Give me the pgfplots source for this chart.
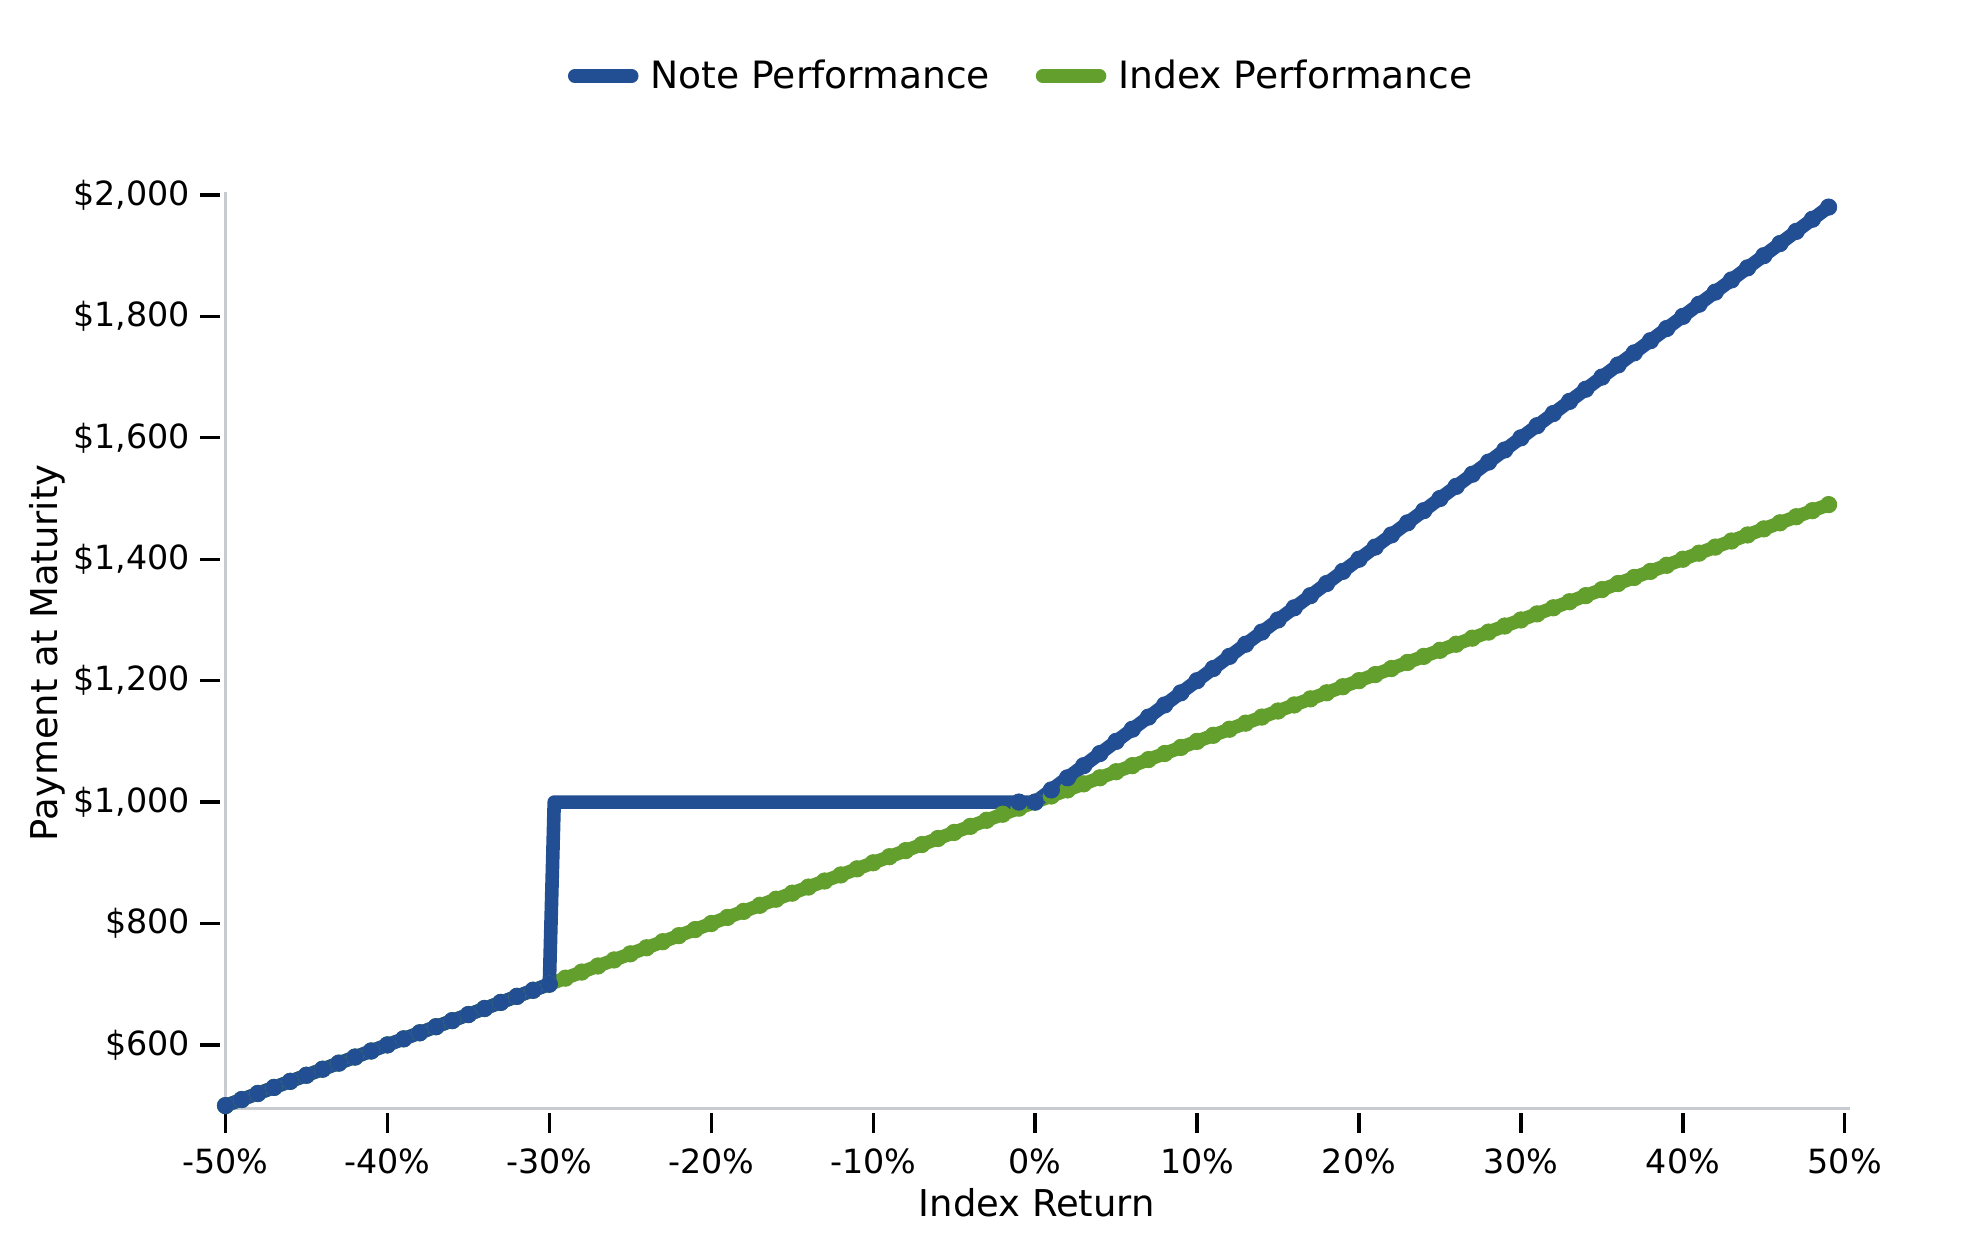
\documentclass[border=0pt]{standalone}
\usepackage{fontspec}
\setmainfont{DejaVu Sans}
\usepackage{pgfplots}
\pgfplotsset{compat=1.18}
\definecolor{noteblue}{RGB}{34,78,148}
\definecolor{idxgreen}{RGB}{99,159,45}
\definecolor{spinegray}{RGB}{200,204,208}
\begin{document}
\begin{tikzpicture}
\begin{axis}[
  at={(0,0)}, anchor=south west,
  scale only axis,
  width=584.7bp, height=329.8bp,
  xmin=-50, xmax=50.3, ymin=496, ymax=2005,
  clip=false,
  axis lines*=left,
  axis line style={draw=spinegray, line width=1.1bp},
  tick align=outside,
  major tick length=7.2bp,
  xtick={-50,-40,-30,-20,-10,0,10,20,30,40,50},
  xticklabels={-50\%,-40\%,-30\%,-20\%,-10\%,0\%,10\%,20\%,30\%,40\%,50\%},
  ytick={600,800,1000,1200,1400,1600,1800,2000},
  yticklabels={{\$600},{\$800},{\$1,000},{\$1,200},{\$1,400},{\$1,600},{\$1,800},{\$2,000}},
  xtick style={black, line width=1.2bp, yshift=-1.8bp},
  ytick style={black, line width=1.2bp, xshift=-1.8bp},
  tick label style={font=\fontsize{12bp}{14bp}\selectfont},
  xticklabel style={yshift=-4bp},
  yticklabel style={xshift=-2bp},
  xlabel={Index Return},
  ylabel={Payment at Maturity},
  every axis x label/.style={at={(axis description cs:0.4995,-0.1035)}, anchor=center, font=\fontsize{13.3bp}{16bp}\selectfont},
  every axis y label/.style={at={(axis description cs:-0.1094,0.497)}, anchor=center, rotate=90, font=\fontsize{13.3bp}{16bp}\selectfont},
  legend columns=2,
  reverse legend,
  legend style={at={(axis description cs:0.491,1.1265)}, anchor=center, draw=none, fill=none,
    font=\fontsize{13.55bp}{16bp}\selectfont,
    /tikz/every odd column/.append style={column sep=2.3bp},
    /tikz/every even column/.append style={column sep=14.5bp}},
  legend image code/.code={\draw[#1, line cap=round] (0bp,0bp) -- (20.5bp,0bp);},
]
% Index Performance
\addplot[idxgreen, line width=4.9bp, mark=*, mark size=2.95bp, mark options={solid, line width=0.3bp, draw=idxgreen, fill=idxgreen}] table {
x y
-50 500
-49 510
-48 520
-47 530
-46 540
-45 550
-44 560
-43 570
-42 580
-41 590
-40 600
-39 610
-38 620
-37 630
-36 640
-35 650
-34 660
-33 670
-32 680
-31 690
-30 700
-29 710
-28 720
-27 730
-26 740
-25 750
-24 760
-23 770
-22 780
-21 790
-20 800
-19 810
-18 820
-17 830
-16 840
-15 850
-14 860
-13 870
-12 880
-11 890
-10 900
-9 910
-8 920
-7 930
-6 940
-5 950
-4 960
-3 970
-2 980
-1 990
0 1000
1 1010
2 1020
3 1030
4 1040
5 1050
6 1060
7 1070
8 1080
9 1090
10 1100
11 1110
12 1120
13 1130
14 1140
15 1150
16 1160
17 1170
18 1180
19 1190
20 1200
21 1210
22 1220
23 1230
24 1240
25 1250
26 1260
27 1270
28 1280
29 1290
30 1300
31 1310
32 1320
33 1330
34 1340
35 1350
36 1360
37 1370
38 1380
39 1390
40 1400
41 1410
42 1420
43 1430
44 1440
45 1450
46 1460
47 1470
48 1480
49 1490
};
\addlegendentry{Index Performance}
% Note Performance (line)
\addplot[noteblue, line width=4.9bp, line join=round, no marks] table {
x y
-50 500
-49 510
-48 520
-47 530
-46 540
-45 550
-44 560
-43 570
-42 580
-41 590
-40 600
-39 610
-38 620
-37 630
-36 640
-35 650
-34 660
-33 670
-32 680
-31 690
-30 700
-29.7 1000
-1 1000
0 1000
1 1020
2 1040
3 1060
4 1080
5 1100
6 1120
7 1140
8 1160
9 1180
10 1200
11 1220
12 1240
13 1260
14 1280
15 1300
16 1320
17 1340
18 1360
19 1380
20 1400
21 1420
22 1440
23 1460
24 1480
25 1500
26 1520
27 1540
28 1560
29 1580
30 1600
31 1620
32 1640
33 1660
34 1680
35 1700
36 1720
37 1740
38 1760
39 1780
40 1800
41 1820
42 1840
43 1860
44 1880
45 1900
46 1920
47 1940
48 1960
49 1980
};
\addlegendentry{Note Performance}
% Note Performance (markers on the sloped parts)
\addplot[noteblue, only marks, forget plot, mark=*, mark size=2.95bp, mark options={solid, line width=0.3bp, draw=noteblue, fill=noteblue}] table {
x y
-50 500
-49 510
-48 520
-47 530
-46 540
-45 550
-44 560
-43 570
-42 580
-41 590
-40 600
-39 610
-38 620
-37 630
-36 640
-35 650
-34 660
-33 670
-32 680
-31 690
-30 700
-1 1000
0 1000
1 1020
2 1040
3 1060
4 1080
5 1100
6 1120
7 1140
8 1160
9 1180
10 1200
11 1220
12 1240
13 1260
14 1280
15 1300
16 1320
17 1340
18 1360
19 1380
20 1400
21 1420
22 1440
23 1460
24 1480
25 1500
26 1520
27 1540
28 1560
29 1580
30 1600
31 1620
32 1640
33 1660
34 1680
35 1700
36 1720
37 1740
38 1760
39 1780
40 1800
41 1820
42 1840
43 1860
44 1880
45 1900
46 1920
47 1940
48 1960
49 1980
};
\end{axis}
\pgfresetboundingbox
\path (-81.18bp,-51.1bp) rectangle (631.26bp,398.9bp);
\end{tikzpicture}
\end{document}
